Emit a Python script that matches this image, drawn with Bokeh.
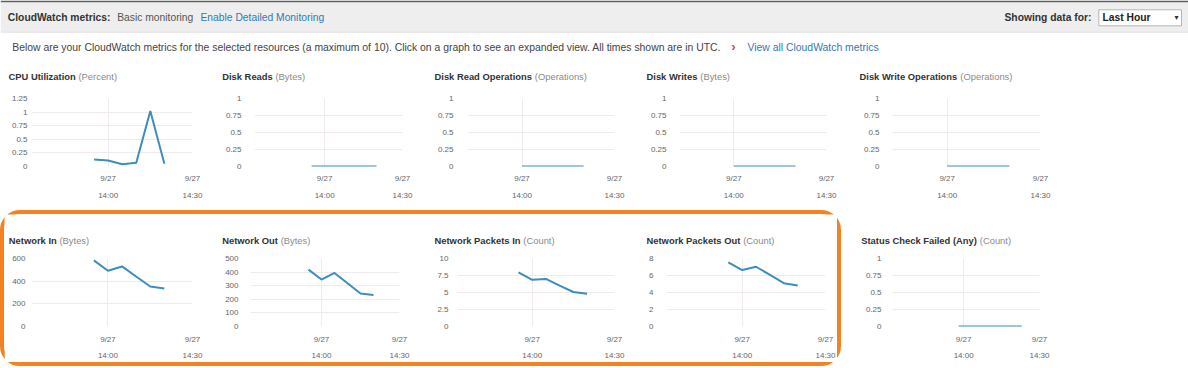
from bokeh.plotting import figure
from bokeh.layouts import column, row
from bokeh.models import Range1d, LinearAxis, FixedTicker, Grid, CustomJSTickFormatter, Spacer
from bokeh.core.properties import value
from bokeh.embed import file_html
from bokeh.resources import INLINE

# ---------------- data ----------------
times_a = ["13:55", "14:00", "14:05", "14:10", "14:15", "14:20"]
times_c = ["14:00", "14:05", "14:10", "14:15", "14:20"]
times_s = ["13:58", "14:03", "14:08", "14:13", "14:18", "14:23"]

cpu_utilization = [0.13, 0.11, 0.04, 0.07, 1.02, 0.05]
disk_reads = [0, 0, 0, 0, 0, 0]
disk_read_operations = [0, 0, 0, 0, 0]
disk_writes = [0, 0, 0, 0, 0]
disk_write_operations = [0, 0, 0, 0, 0]
network_in = [583, 492, 530, 441, 353, 336]
network_out = [418, 345, 394, 318, 243, 231]
network_packets_in = [7.97, 6.86, 7.0, 6.0, 5.07, 4.83]
network_packets_out = [7.54, 6.64, 7.03, 6.07, 5.1, 4.82]
status_check_failed = [0, 0, 0, 0, 0, 0]

cpu_ticks = [0, 0.25, 0.5, 0.75, 1, 1.25]
unit_ticks = [0, 0.25, 0.5, 0.75, 1]
net_in_ticks = [0, 200, 400, 600]
net_out_ticks = [0, 100, 200, 300, 400, 500]
pk_in_ticks = [0, 2.5, 5, 7.5, 10]
pk_out_ticks = [0, 2, 4, 6, 8]

x_ticks = ["14:00", "14:30"]
date_labels = ["9/27", "9/27"]
time_labels = ["14:00", "14:30"]

metric_names = ["CPU Utilization", "Disk Reads", "Disk Read Operations", "Disk Writes",
                "Disk Write Operations", "Network In", "Network Out", "Network Packets In",
                "Network Packets Out", "Status Check Failed (Any)"]
metric_units = ["(Percent)", "(Bytes)", "(Operations)", "(Bytes)", "(Operations)",
                "(Bytes)", "(Bytes)", "(Count)", "(Count)", "(Count)"]

header_bold = "CloudWatch metrics:"
header_mode = "Basic monitoring"
header_link = "Enable Detailed Monitoring"
showing_label = "Showing data for:"
showing_value = "Last Hour"
description = ("Below are your CloudWatch metrics for the selected resources (a maximum of 10). "
               "Click on a graph to see an expanded view. All times shown are in UTC.")
view_all = "View all CloudWatch metrics"

# ---------------- style ----------------
FONT = "Liberation Sans"
LINE = "#3d8dbd"
GRID = "#efeaeb"
TICK_COLOR = "#666666"
ORANGE = "#F58220"


def to_min(s):
    parts = [float(p) for p in s.split(":")]
    m = parts[0] * 60 + parts[1] + (parts[2] / 60 if len(parts) > 2 else 0)
    return int(m) if m == int(m) else m


UP = "ABCDEFGHIJKLMNOPQRSTUVWXYZ"
LO = "abcdefghijklmnopqrstuvwxyz"
REG = dict(zip(UP, [667, 667, 722, 722, 667, 611, 778, 722, 278, 500, 667, 556, 833, 722, 778, 667, 778, 722, 667, 611, 722, 667, 944, 667, 667, 611]))
REG.update(zip(LO, [556, 556, 500, 556, 556, 278, 556, 556, 222, 222, 500, 222, 833, 556, 556, 556, 556, 333, 500, 278, 556, 500, 722, 500, 500, 500]))
REG.update({' ': 278, '(': 333, ')': 333, '.': 278, ',': 278, ':': 278, '/': 278, '-': 333})
REG.update({d: 556 for d in "0123456789"})
BLD = dict(zip(UP, [722, 722, 722, 722, 667, 611, 778, 722, 278, 556, 722, 611, 833, 722, 778, 667, 778, 722, 667, 611, 722, 667, 944, 667, 667, 611]))
BLD.update(zip(LO, [556, 611, 556, 611, 556, 333, 611, 611, 278, 278, 556, 278, 889, 611, 611, 611, 611, 389, 556, 333, 611, 556, 778, 556, 556, 500]))
BLD.update({' ': 278, '(': 333, ')': 333, '.': 278, ',': 278, ':': 333, '/': 278, '-': 333})
BLD.update({d: 556 for d in "0123456789"})


def text_w(s, size, bold=False):
    t = BLD if bold else REG
    return sum(t.get(c, 556) for c in s) / 1000.0 * size


def base_fig(w, h):
    return figure(width=w, height=h, x_range=Range1d(0, w), y_range=Range1d(h, 0),
                  toolbar_location=None, output_backend="svg", min_border=0,
                  x_axis_type=None, y_axis_type=None, outline_line_color=None,
                  background_fill_color="white", border_fill_color="white")


def put_text(f, x, y, s, size, color, bold=False, align="left", font=FONT):
    f.text(x=[x], y=[y], text=[s], text_font=value(font), text_font_size="%.2fpx" % size,
           text_font_style="bold" if bold else "normal", text_color=color,
           text_align=align, text_baseline="middle")


# ---------------- header ----------------
HW, HH = 1188, 64
hdr = base_fig(HW, HH)
hdr.quad(left=[0], right=[HW], top=[0], bottom=[2], fill_color="#5e5e5e", line_color=None)
hdr.quad(left=[0], right=[HW], top=[2], bottom=[32], fill_color="#eeeeee", line_color=None)
hdr.quad(left=[0], right=[HW], top=[31.3], bottom=[32], fill_color="#dddddd", line_color=None)
HS = 10.3
put_text(hdr, 7.3, 16.5, header_bold, HS, "#333333", bold=True)
put_text(hdr, 116.7, 16.5, header_mode, HS, "#555555")
put_text(hdr, 200, 16.5, header_link, HS, "#2f7bb6")
put_text(hdr, 1004, 16.5, showing_label, HS, "#333333", bold=True)
hdr.quad(left=[1098.3], right=[1181], top=[9.3], bottom=[25.3],
         fill_color="white", line_color="#b5b5b5", line_width=1)
put_text(hdr, 1102, 17, showing_value, HS, "#222222", bold=True)
put_text(hdr, 1176, 16.5, "\u25be", 8, "#333333", align="center", font="DejaVu Sans")
DS = (721.7 - 11.7) / text_w(description, 1.0)
put_text(hdr, 11.7, 47, description, DS, "#444444")
put_text(hdr, 733, 46.5, "\u203a", DS + 2, "#d9431e", bold=True, align="center")
put_text(hdr, 747, 47, view_all, DS, "#2f7bb6")

TS = 9.4


def title_fig(w, h, x0, yc, name, unit):
    f = base_fig(w, h)
    put_text(f, x0, yc, name, TS, "#333333", bold=True)
    put_text(f, x0 + text_w(name + " ", TS, bold=True), yc, unit, TS, "#8a8a8a")
    return f


def chart(t, v, ticks, w, h, mbl, mbr, mbt, mbb, ystand, x0, xs1, xs2):
    p = figure(width=w, height=h, x_range=Range1d(x0, to_min("14:30")), y_range=Range1d(0, max(ticks)),
               toolbar_location=None, output_backend="svg", x_axis_type=None, y_axis_type=None,
               min_border_left=mbl, min_border_right=mbr, min_border_top=mbt, min_border_bottom=mbb,
               outline_line_color=None, background_fill_color="white", border_fill_color="white")
    common = dict(axis_line_color=None, major_tick_line_color=None, minor_tick_line_color=None,
                  major_tick_out=0, major_tick_in=0, major_label_text_font=FONT,
                  major_label_text_font_size="8px", major_label_text_color=TICK_COLOR)
    ya = LinearAxis(ticker=FixedTicker(ticks=ticks), formatter=CustomJSTickFormatter(code="return String(tick)"),
                    major_label_standoff=ystand, **common)
    p.add_layout(ya, "left")
    xt = [to_min(s) for s in x_ticks]
    xa1 = LinearAxis(ticker=FixedTicker(ticks=xt), major_label_overrides=dict(zip(xt, date_labels)),
                     major_label_standoff=xs1, **common)
    p.add_layout(xa1, "below")
    xa2 = LinearAxis(ticker=FixedTicker(ticks=xt), major_label_overrides=dict(zip(xt, time_labels)),
                     major_label_standoff=xs2, **common)
    p.add_layout(xa2, "below")
    p.add_layout(Grid(dimension=0, ticker=FixedTicker(ticks=xt), grid_line_color=GRID))
    p.add_layout(Grid(dimension=1, ticker=FixedTicker(ticks=ticks), grid_line_color=GRID))
    p.line([to_min(s) for s in t], v, line_color=LINE, line_width=2)
    return p


series = [(times_a, cpu_utilization, cpu_ticks), (times_a, disk_reads, unit_ticks),
          (times_c, disk_read_operations, unit_ticks), (times_c, disk_writes, unit_ticks),
          (times_c, disk_write_operations, unit_ticks), (times_a, network_in, net_in_ticks),
          (times_a, network_out, net_out_ticks), (times_a, network_packets_in, pk_in_ticks),
          (times_a, network_packets_out, pk_out_ticks), (times_s, status_check_failed, unit_ticks)]

# pixel geometry per chart (reference pixels)
GEOM = {
    # row: (block lefts, widths, title x, frame left, px 14:00, px 14:30, label right)
    1: ([0, 213, 426, 639, 852], [213, 213, 213, 213, 220], [8, 221.7, 434, 646, 859],
        [31, 254, 467, 679, 892], [107.5, 324, 521.5, 733.5, 946.5], [191.7, 401.7, 614, 826.5, 1039.5],
        [27.3, 240.7, 453, 666, 879]),
    2: ([4, 217, 430, 643, 841], [213, 213, 213, 194, 219], [8.3, 221.7, 434, 646, 860.7],
        [31, 250, 457, 666, 892], [107.3, 321, 531.7, 741.7, 963.3], [191.7, 399, 614, 825, 1039.3],
        [25, 238.3, 448.3, 653.3, 880.7]),
}


def make_block(r, c, th, tyc, ch, mbt, mbb, xs1, xs2):
    lefts, widths, tx, fl, p0, p30, lr = GEOM[r]
    L, W = lefts[c], widths[c]
    k = (r - 1) * 5 + c
    t, v, ticks = series[k]
    tf = title_fig(W, th, tx[c] - L, tyc, metric_names[k], metric_units[k])
    x0 = to_min("14:30") - 30.0 * (p30[c] - fl[c]) / (p30[c] - p0[c])
    cf = chart(t, v, ticks, W, ch, round(fl[c] - L), round(L + W - p30[c]), mbt, mbb,
               max(2, round(fl[c] - lr[c])), x0, xs1, xs2)
    return column(tf, row(cf))


blocks1 = [make_block(1, c, 24, 12, 114, 10, 36, 7, 5) for c in range(5)]
blocks2 = [make_block(2, c, 34, 26, 114, 10, 35, 8, 4) for c in range(5)]

box = row(*blocks2[:4], styles={"border": "4px solid " + ORANGE, "border-radius": "20px"})
last = column(Spacer(width=219, height=4), blocks2[4])

layout = column(hdr, row(*blocks1), Spacer(width=10, height=8), row(box, last))

open("out.html", "w").write(file_html(layout, INLINE))
